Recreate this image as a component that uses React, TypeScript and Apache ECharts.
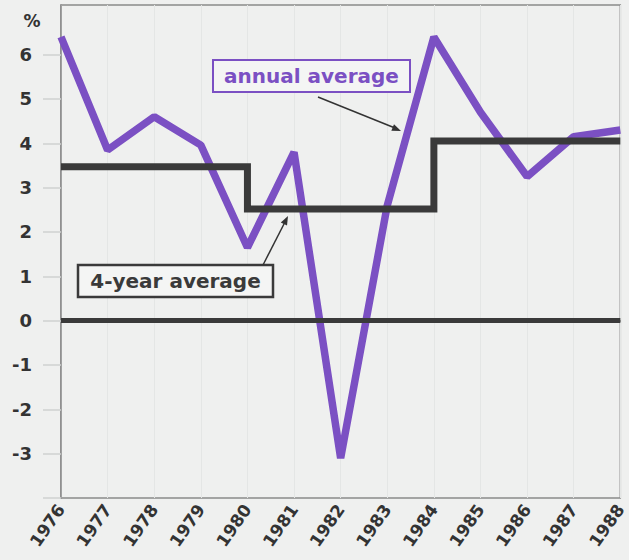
import React, { useEffect, useRef } from "react";
import * as echarts from "echarts";

const years = ["1976", "1977", "1978", "1979", "1980", "1981", "1982", "1983", "1984", "1985", "1986", "1987", "1988"];
const annualAverage = [6.4, 3.85, 4.6, 3.96, 1.65, 3.8, -3.1, 2.6, 6.4, 4.7, 3.25, 4.15, 4.3];
const fourYearAverage = [3.47, 3.47, 3.47, 3.47, 2.52, 2.52, 2.52, 2.52, 4.05, 4.05, 4.05, 4.05, 4.05];
const yTickValues = [-4, -3, -2, -1, 0, 1, 2, 3, 4, 5, 6];
const yLabelValues = [-3, -2, -1, 0, 1, 2, 3, 4, 5, 6];

const PURPLE = "#7b50c3";
const DARK = "#3a3a3a";
const FONT = "'DejaVu Sans', sans-serif";

function arrowHead(x1: number, y1: number, x2: number, y2: number, len: number, half: number) {
  const dx = x2 - x1;
  const dy = y2 - y1;
  const d = Math.sqrt(dx * dx + dy * dy);
  const ux = dx / d;
  const uy = dy / d;
  const bx = x2 - ux * len;
  const by = y2 - uy * len;
  return [
    [x2, y2],
    [bx - uy * half, by + ux * half],
    [bx + uy * half, by - ux * half],
  ];
}

export default function App() {
  const ref = useRef<HTMLDivElement>(null);

  useEffect(() => {
    if (!ref.current) return;
    const chart = echarts.init(ref.current, null, { renderer: "svg" });
    const option = {
      animation: false,
      backgroundColor: "#eff0ef",
      grid: {
        left: 61,
        right: 4,
        top: 5,
        bottom: 62,
        show: true,
        borderColor: "#8a8a8a",
        borderWidth: 1.5,
        backgroundColor: "transparent",
      },
      xAxis: {
        type: "category",
        data: years,
        boundaryGap: false,
        axisLine: { show: true, lineStyle: { color: "#8a8a8a", width: 1.5 } },
        axisTick: { show: false },
        splitLine: { show: true, lineStyle: { color: "#e4e6e5", width: 1 } },
        axisLabel: {
          interval: 0,
          rotate: 55,
          margin: 8,
          fontSize: 17,
          fontWeight: "bold",
          fontFamily: FONT,
          color: "#333333",
        },
      },
      yAxis: {
        type: "value",
        min: -4,
        max: 7.12,
        interval: 1,
        axisLine: { show: true, lineStyle: { color: "#8a8a8a", width: 1.5 } },
        axisTick: {
          show: true,
          length: 18,
          customValues: yTickValues,
          lineStyle: { color: "#cfd2d1", width: 1.5 },
        },
        splitLine: { show: false },
        axisLabel: {
          customValues: yLabelValues,
          margin: 29,
          fontSize: 18,
          fontWeight: "bold",
          fontFamily: FONT,
          color: "#333333",
        },
      },
      series: [
        {
          name: "annual average",
          type: "line",
          data: annualAverage,
          symbol: "none",
          z: 2,
          lineStyle: { color: PURPLE, width: 7.5, join: "bevel" },
        },
        {
          name: "4-year average",
          type: "line",
          data: fourYearAverage,
          step: "end",
          symbol: "none",
          z: 3,
          lineStyle: { color: DARK, width: 7, join: "miter", cap: "butt" },
          markLine: {
            silent: true,
            symbol: "none",
            label: { show: false },
            lineStyle: { color: DARK, width: 5, type: "solid" },
            data: [{ yAxis: 0 }],
          },
        },
      ],
      graphic: [
        {
          type: "text",
          x: 32,
          y: 21,
          style: {
            text: "%",
            fill: "#333333",
            font: `bold 17px ${FONT}`,
            align: "center",
            verticalAlign: "middle",
          },
        },
        {
          type: "rect",
          shape: { x: 213, y: 60, width: 197, height: 32 },
          style: { fill: "#f4f5f4", stroke: PURPLE, lineWidth: 2 },
          z: 10,
        },
        {
          type: "text",
          x: 311.5,
          y: 76,
          z: 11,
          style: {
            text: "annual average",
            fill: PURPLE,
            font: `bold 20px ${FONT}`,
            align: "center",
            verticalAlign: "middle",
          },
        },
        {
          type: "line",
          shape: { x1: 318, y1: 97, x2: 395, y2: 128 },
          style: { stroke: "#333333", lineWidth: 1.5 },
          z: 10,
        },
        {
          type: "polygon",
          shape: { points: arrowHead(318, 97, 401, 131, 9, 3.5) },
          style: { fill: "#333333" },
          z: 10,
        },
        {
          type: "rect",
          shape: { x: 78, y: 265, width: 195, height: 32 },
          style: { fill: "#f4f5f4", stroke: DARK, lineWidth: 2.5 },
          z: 10,
        },
        {
          type: "text",
          x: 175.5,
          y: 281,
          z: 11,
          style: {
            text: "4-year average",
            fill: DARK,
            font: `bold 20px ${FONT}`,
            align: "center",
            verticalAlign: "middle",
          },
        },
        {
          type: "line",
          shape: { x1: 263, y1: 265, x2: 285, y2: 222 },
          style: { stroke: "#333333", lineWidth: 1.5 },
          z: 10,
        },
        {
          type: "polygon",
          shape: { points: arrowHead(263, 265, 288, 216, 9, 3.5) },
          style: { fill: "#333333" },
          z: 10,
        },
      ],
    };
    chart.setOption(option as any);
    return () => chart.dispose();
  }, []);

  return (
    <div
      ref={ref}
      style={{ position: "absolute", left: 0, top: 0, width: 629, height: 560, background: "#eff0ef" }}
    />
  );
}
